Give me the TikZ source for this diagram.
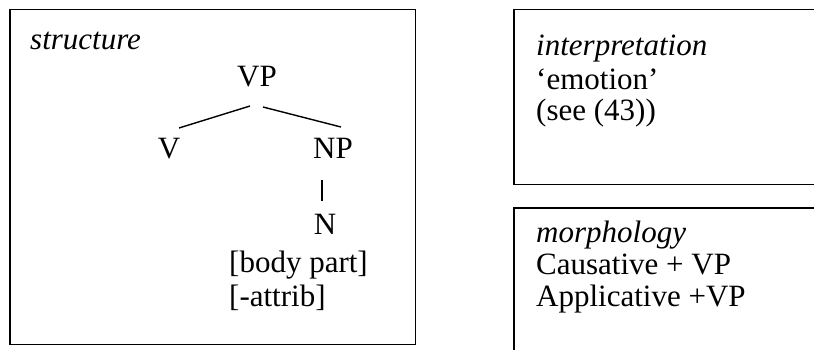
\documentclass[tikz,border=0pt]{standalone}
\usepackage{fontspec}
\setmainfont{Liberation Serif}
\begin{document}
\begin{tikzpicture}[x=1pt,y=-1pt,
  txt/.style={anchor=base west,inner sep=0pt,font=\fontsize{31}{34}\selectfont},
  cat/.style={anchor=base,inner sep=0pt,font=\fontsize{31}{34}\selectfont},
  boxline/.style={line width=1.4pt},
  branch/.style={line width=1.4pt}]
\useasboundingbox (0,0) rectangle (814,349);
\clip (0,0) rectangle (814,349);
% boxes
\draw[boxline] (10,9.5) rectangle (415.5,344.5);
\draw[boxline] (514,9.5) rectangle (830,184.5);
\draw[boxline] (514,208) rectangle (830,360);
% left box
\node[txt] (structure) at (30,49) {\itshape structure};
\node[cat] (VP) at (257,86) {VP};
\node[cat] (V) at (169,158) {V};
\node[cat] (NP) at (333,158) {NP};
\node[cat] (N) at (325,234) {N};
\node[txt] (body) at (229,272) {[body part]};
\node[txt] (attrib) at (229,306) {[-attrib]};
\coordinate (vpl) at (250,106);
\coordinate (vl) at (179,128);
\coordinate (vpr) at (263,107);
\coordinate (npr) at (341,127);
\coordinate (npb) at (322,180);
\coordinate (nt) at (322,201);
\draw[branch] (vpl) -- (vl);
\draw[branch] (vpr) -- (npr);
\draw[branch] (npb) -- (nt);
% right boxes
\node[txt] (interp) at (536,55) {\itshape interpretation};
\node[txt] (emotion) at (536,89) {‘emotion’};
\node[txt] (see) at (536,120) {(see (43))};
\node[txt] (morph) at (536,242) {\itshape morphology};
\node[txt] (caus) at (536,274) {Causative + VP};
\node[txt] (appl) at (536,306) {Applicative +VP};
\end{tikzpicture}
\end{document}
